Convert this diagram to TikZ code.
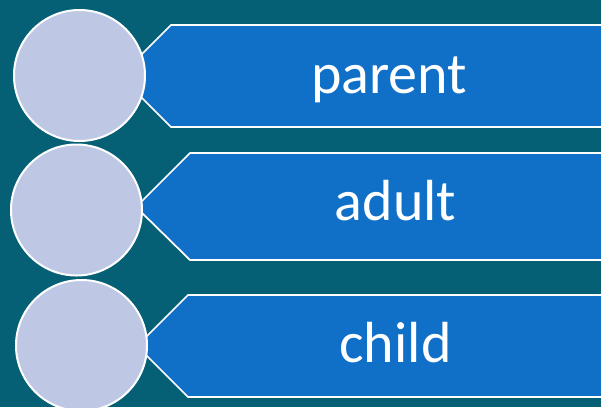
\documentclass[tikz,border=0pt]{standalone}
\usepackage{fontspec}
\setmainfont{Carlito}
\usepackage{tikz}
\definecolor{Teal}{RGB}{5,96,117}
\definecolor{Banner}{RGB}{16,112,200}
\definecolor{Bubble}{RGB}{190,200,229}

\tikzset{
  bubble/.style={circle, draw=white, line width=2pt, fill=Bubble, minimum size=131pt, inner sep=0pt},
  banner/.style={draw=white, line width=1.75pt, fill=Banner},
  word/.style={text=white, font=\fontsize{58}{60}\selectfont, anchor=base}
}

\begin{document}
\begin{tikzpicture}[x=1pt,y=-1pt]
        \useasboundingbox (0,0) rectangle (601,407);
        \fill[Teal] (0,0) rectangle (601,407);
        \clip (0,0) rectangle (601,407);

        % banners
        \draw[banner] (640,25) -- (171,25) -- (120,76) -- (171,127) -- (640,127);
        \draw[banner] (640,153) -- (190,153) -- (136,207) -- (190,260) -- (640,260);
        \draw[banner] (640,295) -- (188,295) -- (137,346) -- (188,397) -- (640,397);

        % circles
        \node[bubble] (C1) at (79.5,75.5) {};
        \node[bubble] (C2) at (76.5,210) {};
        \node[bubble] (C3) at (81.5,345.5) {};

        % labels
        \node[word] (Tp) at (389,93) {parent};
        \node[word] (Ta) at (395.5,220) {adult};
        \node[word] (Tc) at (395.5,362) {child};
\end{tikzpicture}
\end{document}
